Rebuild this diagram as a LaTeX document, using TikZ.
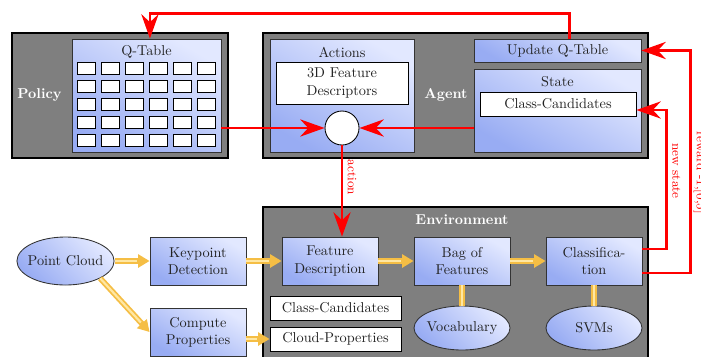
\documentclass[tikz,border=0pt]{standalone}
\usetikzlibrary{arrows.meta,positioning,calc,shapes.geometric}
\definecolor{rlgray}{HTML}{7F7F7F}
\definecolor{rllight}{HTML}{E2E8FF}
\definecolor{rldark}{HTML}{98ACF3}
\definecolor{rlred}{HTML}{FF0000}
\definecolor{rlflow}{HTML}{F5BE45}
\definecolor{rlflowlight}{HTML}{FFE7A3}
\definecolor{rltext}{HTML}{222222}

\begin{document}
\begin{tikzpicture}[
    x=0.7pt, y=-0.7pt,
    font=\normalsize, text=rltext,
    panel/.style={draw=black, fill=rlgray, line width=0.8pt, inner sep=0pt},
    paneltitle/.style={text=white, font=\bfseries},
    block/.style={draw=black!80, top color=rllight, bottom color=rldark,
                  shading angle=-30, align=center, inner sep=2pt, line width=0.6pt},
    stage/.style={block, minimum width=67.2pt, minimum height=33.6pt},
    blob/.style={ellipse, draw=black!80, top color=rllight, bottom color=rldark,
                 shading angle=-45, minimum width=67.2pt, minimum height=30.8pt,
                 inner xsep=-2.5pt, inner ysep=1pt, line width=0.6pt},
    plain/.style={draw=black, fill=white, line width=0.6pt, align=center, inner sep=1pt},
    cell/.style={draw=black, fill=white, line width=0.5pt, minimum width=12.6pt,
                 minimum height=8.4pt, inner sep=0pt},
    feedback/.style={draw=rlred, line width=2pt, -{Stealth[length=17pt, width=12pt]}},
    fblabel/.style={text=rlred, font=\small, rotate=-90, anchor=south, inner sep=3pt},
    flow/.style={draw=rlflow, line width=4pt, -{Triangle[length=8pt, width=9pt]},
                 postaction={draw=rlflowlight, line width=1.5pt, -, shorten >=9pt}},
    link/.style={draw=rlflow, line width=4pt,
                 postaction={draw=rlflowlight, line width=1.5pt}}
]
\useasboundingbox (0,0) rectangle (701,356);

% policy
\node[panel, minimum width=151.2pt, minimum height=87.5pt] (policy) at (120,95.5) {};
\node[paneltitle] (policytitle) at (39.5,95) {Policy};
\node[block, minimum width=104.3pt, minimum height=79.1pt] (qtable) at (146.5,95.5) {};
\node (qtitle) at (146.5,52) {Q-Table};
\foreach \i in {0,...,5}
  \foreach \j in {0,...,4}
    \node[cell] (q\i\j) at (86.5+24*\i, 68+18*\j) {};

% agent
\node[panel, minimum width=269.5pt, minimum height=87.5pt] (agent) at (455.5,95.5) {};
\node[paneltitle] (agenttitle) at (446,95) {Agent};
\node[block, minimum width=100.8pt, minimum height=79.1pt] (actions) at (342,95.5) {};
\node (acttitle) at (342,52) {Actions};
\node[plain, minimum width=92.4pt, minimum height=29.4pt] (descr) at (342,83) {3D Feature\\Descriptors};
\node[circle, draw=black, fill=white, line width=0.6pt, minimum size=23.8pt, inner sep=0pt] (act) at (342,128) {};
\node[block, minimum width=116.9pt, minimum height=16.1pt] (update) at (557.5,50.5) {Update Q-Table};
\node[block, minimum width=116.9pt, minimum height=58.1pt] (state) at (557.5,110.5) {};
\node (statetitle) at (557.5,82) {State};
\node[plain, minimum width=109.2pt, minimum height=16.8pt] (statecand) at (558,104) {Class-Candidates};

% environment
\node[panel, minimum width=269.5pt, minimum height=109.9pt] (env) at (455.5,285.5) {};
\node[paneltitle] (envtitle) at (462,220) {Environment};
\node[stage] (featdesc) at (330,261) {Feature\\Description};
\node[stage] (bag) at (462,261) {Bag of\\Features};
\node[stage] (classif) at (594,261) {Classifica-\\tion};
\node[blob] (vocab) at (462,328) {Vocabulary};
\node[blob] (svms) at (594,328) {SVMs};
\node[plain, minimum width=91.7pt, minimum height=16.8pt] (envcand) at (335.5,308) {Class-Candidates};
\node[plain, minimum width=91.7pt, minimum height=16.8pt] (envcloud) at (335.5,339) {Cloud-Properties};

% input side
\node[blob, minimum width=68pt, minimum height=33.6pt] (pcloud) at (65.5,261) {Point Cloud};
\node[stage] (keypoint) at (198,261) {Keypoint\\Detection};
\node[stage] (compute) at (198,332) {Compute\\Properties};

% data flow
\draw[flow] (pcloud) -- (keypoint);
\draw[flow] (pcloud.south east) -- (compute.west);
\draw[flow] (keypoint) -- (featdesc);
\draw[flow] (featdesc) -- (bag);
\draw[flow] (bag) -- (classif);
\draw[flow] (compute.east |- envcloud) -- (envcloud.west);
\draw[link] (bag) -- (vocab);
\draw[link] (classif) -- (svms);

% learning loop
\draw[feedback] ([xshift=8.4pt]update.north) -- ++(0,-25) -| ([xshift=2.4pt]qtable.north);
\draw[feedback] (qtable.east |- act) -- (act);
\draw[feedback] (state.west |- act) -- (act);
\draw[feedback] (act) -- node[fblabel, pos=0.35] {action} (act |- featdesc.north);
\draw[feedback] ([yshift=8.4pt]classif.east) -- ++(24,0) |- node[fblabel, pos=0.28] {new state} ([yshift=-4.2pt]statecand.east);
\draw[feedback] ([yshift=-8.4pt]classif.east) -- ++(48,0) |- node[fblabel, pos=0.225, inner sep=1.2pt] {reward -1,[0,5]} (update.east);
\end{tikzpicture}
\end{document}
